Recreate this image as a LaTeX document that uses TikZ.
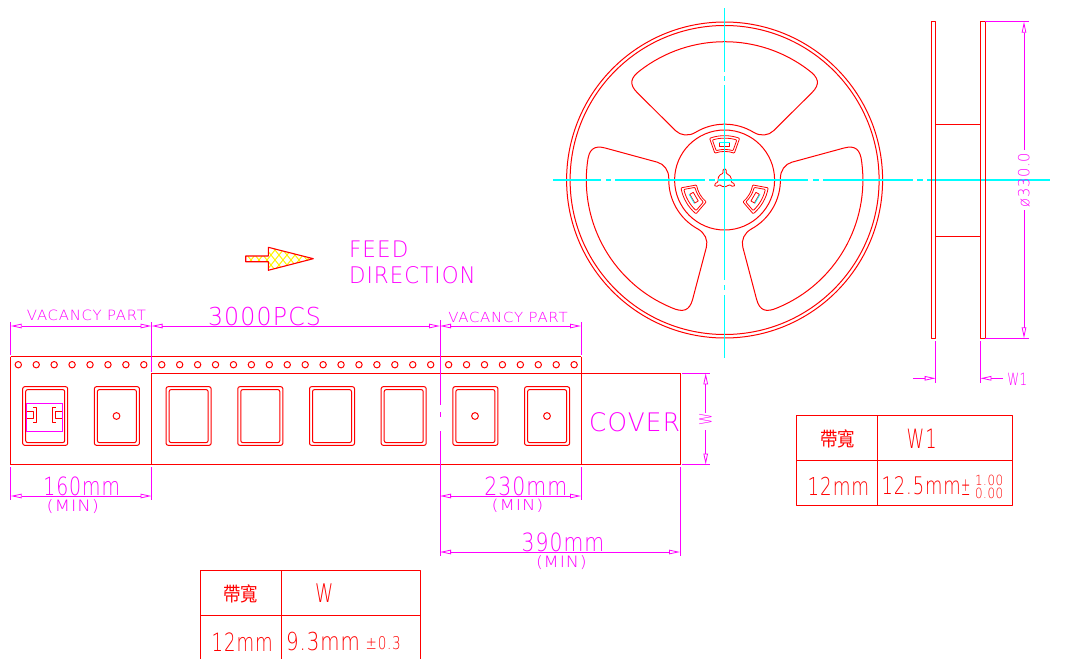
\documentclass[tikz,border=0pt]{standalone}
\usepackage{fontspec}
\usepackage{graphicx}
\usetikzlibrary{arrows.meta}
\newfontfamily\cadfont[LetterSpace=5]{DejaVu Sans ExtraLight}
\newfontfamily\cjkfont{Noto Sans CJK TC}
\definecolor{cadred}{RGB}{255,0,0}
\definecolor{cadmag}{RGB}{255,0,255}
\definecolor{cadcy}{RGB}{0,255,255}
% left x, bottom y (px from top), width, height, colour, text
\newcommand{\lbl}[6]{\node[lblbox,text=#5] at (#1,-#2) {\resizebox*{#3pt}{#4pt}{\cadfont #6}};}
\tikzset{
  lblbox/.style={inner sep=0pt,outer sep=0pt,anchor=south west},
  redl/.style={draw=cadred,line width=1pt,line join=round},
  magl/.style={draw=cadmag,line width=1pt},
  cyl/.style={draw=cadcy,line width=1.1pt},
  dimtip/.style={{Triangle[open,length=11pt,width=4.5pt,line width=0.8pt]}-{Triangle[open,length=11pt,width=4.5pt,line width=0.8pt]}},
  endtip/.style={-{Triangle[open,length=11pt,width=4.5pt,line width=0.8pt]}},
}
\begin{document}
\begin{tikzpicture}[x=1pt,y=1pt]
\useasboundingbox (0,0) rectangle (1072,-659);
\fill[white] (0,0) rectangle (1072,-659);

% ---------- reel ----------
\begin{scope}[shift={(724.6,-180)}]
  \draw[redl] (0,0) circle[radius=158];
  \draw[redl] (0,0) circle[radius=154.5];
  \draw[redl] (0,0) circle[radius=50];
  \foreach \a in {0,120,240}{
    \begin{scope}[rotate=\a]
      \draw[redl] (52.5:138.3)
        .. controls (94,102.5) and (96,96) .. (87.3,87.3)
        -- (49,49.3)
        .. controls (44,44.3) and (35.8,43.5) .. (29,47.7)
        arc[start angle=58.7,end angle=121.3,radius=55.8]
        .. controls (-35.8,43.5) and (-44,44.3) .. (-49,49.3)
        -- (-87.3,87.3)
        .. controls (-96,96) and (-94,102.5) .. (127.5:138.3)
        arc[start angle=127.5,end angle=52.5,radius=138.3] -- cycle;
      % aperture
      \draw[redl,line width=0.8pt,rounded corners=0.8pt] (70.2:44.3) arc[start angle=70.2,end angle=109.8,radius=44.3] -- (110:28.5) arc[start angle=110,end angle=70,radius=28.5] -- cycle;
      \draw[redl,line width=0.8pt,rounded corners=0.8pt] (73:41.8) arc[start angle=73,end angle=107,radius=41.8] -- (106:30.5) arc[start angle=106,end angle=74,radius=30.5] -- cycle;
      \draw[redl,line width=0.8pt] (-5,33.3) rectangle (5,37.3);
      \draw[draw=cadcy,line width=0.8pt] (-5.3,37.9) -- (5.3,37.9);
      % hub lobes
      \draw[redl,line width=0.8pt] (35:6.8) arc[start angle=35,end angle=72,radius=6.8]
        .. controls (80:7.2) and (80:8.5) .. (80:9.8)
        .. controls (84:12.2) and (96:12.2) .. (100:9.8)
        .. controls (100:8.5) and (100:7.2) .. (108:6.8)
        arc[start angle=108,end angle=155,radius=6.8];
    \end{scope}
  }
\end{scope}

% centre lines
\draw[cyl] (724.3,-8) -- (724.3,-72) (724.3,-76) -- (724.3,-81) (724.3,-85) -- (724.3,-280) (724.3,-285) -- (724.3,-290) (724.3,-295) -- (724.3,-358);
\draw[cyl] (553,-180) -- (601,-180) (606,-180) -- (611,-180) (615,-180) -- (705,-180) (709,-180) -- (715,-180) (718,-180) -- (808,-180) (813,-180) -- (819,-180) (823,-180) -- (913,-180) (917,-180) -- (923,-180) (927,-180) -- (1050,-180);

% ---------- side view ----------
\draw[redl] (931.5,-21.7) rectangle (935.7,-338.3);
\draw[redl] (980.3,-21.7) rectangle (985,-338.3);
\draw[redl] (935.7,-124) -- (980.3,-124) (935.7,-236.3) -- (980.3,-236.3);
\draw[magl] (985,-21.7) -- (1029,-21.7) (985,-338.3) -- (1029,-338.3);
\draw[magl,endtip] (1024,-150) -- (1024,-21.7);
\draw[magl,endtip] (1024,-210) -- (1024,-338.3);
\node[lblbox,anchor=south west,rotate=90,text=cadmag] (d330) at (1030,-207.3) {\resizebox*{54.6pt}{12pt}{\cadfont ø330.0}};
\draw[magl] (935.7,-341) -- (935.7,-383) (980.3,-341) -- (980.3,-383);
\draw[magl,endtip] (913,-378.3) -- (935.7,-378.3);
\draw[magl,endtip] (1003,-378.3) -- (980.3,-378.3);
\lbl{1007.3}{385}{20}{12.3}{cadmag}{W1}

% ---------- feed arrow ----------
\begin{scope}
  \clip (245.7,-256) -- (268.3,-256) -- (268.3,-247.3) -- (313.3,-258.7) -- (268.3,-270.3) -- (268.3,-261.7) -- (245.7,-261.7) -- cycle;
  \foreach \k in {0,8,...,104}{
    \draw[yellow,line width=1pt] (215+\k,-285) -- (255+\k,-235);
    \draw[yellow,line width=1pt] (215+\k,-235) -- (255+\k,-285);
  }
\end{scope}
\draw[redl,line width=1.1pt] (245.7,-256) -- (268.3,-256) -- (268.3,-247.3) -- (313.3,-258.7) -- (268.3,-270.3) -- (268.3,-261.7) -- (245.7,-261.7) -- cycle;
\lbl{349}{257.3}{59.3}{16.6}{cadmag}{FEED}
\lbl{349}{284}{126.7}{17.3}{cadmag}{DIRECTION}

% ---------- tape ----------
\draw[redl] (10.7,-356.7) -- (581,-356.7);
\draw[redl] (151.5,-373.3) -- (680,-373.3);
\draw[redl] (10.7,-464.5) -- (680,-464.5);
\draw[redl] (10.7,-356.7) -- (10.7,-464.5);
\draw[redl] (151.5,-373.3) -- (151.5,-464.5);
\draw[redl] (581,-356.7) -- (581,-464.5);
\draw[redl] (680,-373.3) -- (680,-464.5);
\foreach \i in {0,...,31}{
  \draw[redl] ({18.3+17.93*\i},-364.7) circle[radius=3.2];
}
\foreach \x in {22.7,94.4,166.1,237.8,309.5,381.2,452.9,524.6}{
  \draw[redl,rounded corners=2pt] (\x,-386.7) rectangle ++(45,-58.6);
  \draw[redl,rounded corners=2pt] ({\x+3},-389.6) rectangle ++(39,-53);
}
\foreach \x in {116.5,475,547}{
  \draw[redl] (\x,-416) circle[radius=3.4];
}
% component in first pocket
\draw[magl] (26.7,-403.3) rectangle (62.3,-431.7);
\draw[redl] (26.7,-411.7) -- (33.3,-411.7) -- (33.3,-418.3) -- (26.7,-418.3);
\draw[redl] (33.3,-407.3) -- (36.7,-407.3) -- (36.7,-422.7) -- (33.3,-422.7);
\draw[redl] (62.3,-411.7) -- (55.7,-411.7) -- (55.7,-418.3) -- (62.3,-418.3);
\draw[redl] (55.7,-407.3) -- (52,-407.3) -- (52,-422.7) -- (55.7,-422.7);

% ---------- tape dimensions ----------
\draw[magl] (10.7,-322) -- (10.7,-355) (151.5,-322) -- (151.5,-372) (581,-322) -- (581,-355);
\draw[magl] (440,-320) -- (440,-405) (440,-412) -- (440,-417) (440,-431) -- (440,-556);
\draw[magl,dimtip] (10.7,-326) -- (151.5,-326);
\draw[magl,dimtip] (151.5,-326) -- (440,-326);
\draw[magl,dimtip] (440,-326) -- (581,-326);
\draw[magl] (10.7,-467) -- (10.7,-500) (151.5,-467) -- (151.5,-500) (581,-467) -- (581,-500) (680,-467) -- (680,-556);
\draw[magl,dimtip] (10.7,-496) -- (151.5,-496);
\draw[magl,dimtip] (440,-496) -- (581,-496);
\draw[magl,dimtip] (440,-552) -- (680,-552);
\draw[magl] (682,-373.3) -- (710,-373.3) (682,-464.5) -- (710,-464.5);
\draw[magl,endtip] (705.7,-413) -- (705.7,-373.3);
\draw[magl,endtip] (705.7,-430) -- (705.7,-464.5);
\node[lblbox,rotate=90,text=cadmag] (dw) at (711.7,-425) {\resizebox*{12.3pt}{12.4pt}{\cadfont W}};

\lbl{27}{320.7}{119}{10.7}{cadmag}{VACANCY PART}
\lbl{208}{326}{113}{18.7}{cadmag}{3000PCS}
\lbl{448.3}{322.7}{119.4}{10.5}{cadmag}{VACANCY PART}
\lbl{43.3}{495.7}{76.7}{19}{cadmag}{160mm}
\lbl{46.7}{513.3}{52.3}{14}{cadmag}{(MIN)}
\lbl{484.3}{495.7}{83}{19}{cadmag}{230mm}
\lbl{491.7}{512.7}{51.6}{13.4}{cadmag}{(MIN)}
\lbl{521.7}{551.7}{82.6}{19}{cadmag}{390mm}
\lbl{536}{570}{50.7}{14}{cadmag}{(MIN)}
\lbl{589}{432}{91}{19.3}{cadmag}{COVER}

% ---------- table W ----------
\draw[redl] (200.7,-659) -- (200.7,-570.7) -- (420.7,-570.7) -- (420.7,-659);
\draw[redl] (200.7,-615.7) -- (420.7,-615.7);
\draw[redl] (281.3,-570.7) -- (281.3,-659);
\node[lblbox,text=cadred] (tw0) at (223.3,-603.3) {\resizebox*{35pt}{18.3pt}{\cjkfont 帶寬}};
\lbl{315}{602.7}{18.3}{18.7}{cadred}{W}
\lbl{211.7}{651}{61}{18.7}{cadred}{12mm}
\lbl{286}{651}{74}{18.7}{cadred}{9.3mm}
\lbl{365.7}{649.3}{35}{13.3}{cadred}{±0.3}

% ---------- table W1 ----------
\draw[redl] (796.7,-415.7) rectangle (1012.3,-505.3);
\draw[redl] (796.7,-460) -- (1012.3,-460);
\draw[redl] (877.7,-415.7) -- (877.7,-505.3);
\node[lblbox,text=cadred] (tw1) at (820,-448.3) {\resizebox*{35pt}{18.3pt}{\cjkfont 帶寬}};
\lbl{906.7}{448.7}{30}{19.4}{cadred}{W1}
\lbl{807.7}{495}{61.6}{18.3}{cadred}{12mm}
\lbl{881.7}{495}{79}{18.3}{cadred}{12.5mm}
\lbl{961}{495}{9.3}{15.7}{cadred}{±}
\lbl{975}{485.4}{28.3}{10.6}{cadred}{1.00}
\lbl{975}{498.3}{28.3}{10.6}{cadred}{0.00}
\end{tikzpicture}
\end{document}
